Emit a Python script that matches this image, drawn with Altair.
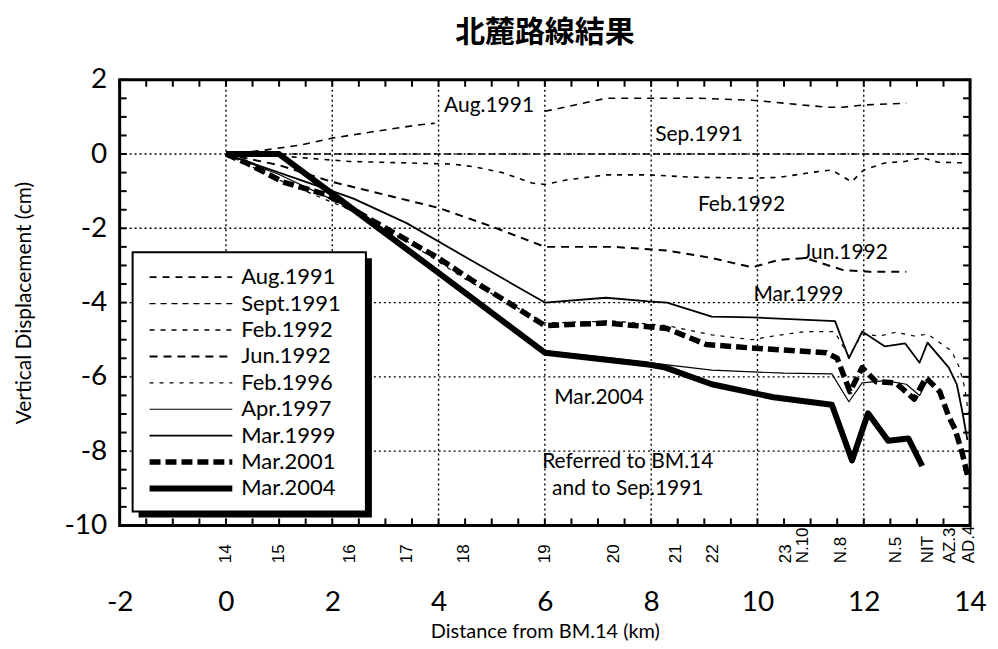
import altair as alt
import pandas as pd
import numpy as np

# ---------------- data ----------------
TITLE = "北麓路線結果"
X_TICKS = [-2, 0, 2, 4, 6, 8, 10, 12, 14]
Y_TICKS = [2, 0, -2, -4, -6, -8, -10]
GRID_X = [0, 2, 4, 6, 8, 10, 12]
GRID_Y = [0, -2, -4, -6, -8]

STATIONS = ["14", "15", "16", "17", "18", "19", "20", "21", "22", "23", "N.10",
            "N.8", "N.5", "NIT", "AZ.3", "AD.4"]
STATION_KM = [0.0, 1.0, 2.33, 3.41, 4.48, 6.0, 7.3, 8.46, 9.17, 10.54, 10.86,
              11.58, 12.6, 13.2, 13.62, 13.98]

SERIES = ["Aug.1991", "Sept.1991", "Feb.1992", "Jun.1992", "Feb.1996",
          "Apr.1997", "Mar.1999", "Mar.2001", "Mar.2004"]

AUG91_KM = [0, 0.7, 1.4, 2.0, 2.76, 3.6, 3.93, 6.0, 6.5, 7.15, 8.0, 8.9, 9.9, 10.5, 11.3, 11.6, 12.0, 12.8]
AUG91_CM = [0, 0.1, 0.24, 0.43, 0.6, 0.78, 0.83, 1.15, 1.3, 1.5, 1.5, 1.5, 1.45, 1.37, 1.26, 1.26, 1.32, 1.37]
AUG91_SEG = [0, 0, 0, 0, 0, 0, 0, 1, 1, 1, 1, 1, 1, 1, 1, 1, 1, 1]

SEP91_KM = [0, 14]
SEP91_CM = [0, 0]

FEB92_KM = [0, 1.0, 2.33, 3.41, 4.26, 4.7, 5.2, 5.76, 6.0, 6.4, 7.15, 7.95, 8.7, 9.9, 10.4,
            11.1, 11.4, 11.77, 12.0, 12.4, 12.78, 13.1, 13.4, 13.95]
FEB92_CM = [0, -0.05, -0.2, -0.24, -0.27, -0.35, -0.5, -0.78, -0.82, -0.7, -0.56, -0.56, -0.62,
            -0.65, -0.63, -0.48, -0.43, -0.75, -0.43, -0.24, -0.2, -0.1, -0.22, -0.24]

JUN92_KM = [0, 1.0, 2.0, 3.0, 4.0, 5.0, 6.0, 7.3, 8.3, 9.14, 9.9, 10.4, 10.9, 11.6, 12.1, 12.8]
JUN92_CM = [0, -0.3, -0.75, -1.1, -1.45, -1.95, -2.5, -2.5, -2.6, -2.8, -3.05, -2.85, -2.8,
            -3.12, -3.17, -3.17]

FEB96_KM = [0, 1.0, 2.33, 3.41, 4.48, 6.0, 7.3, 8.3, 9.14, 9.9, 10.3, 10.9, 11.45, 11.72,
            11.97, 12.3, 12.6, 12.95, 13.2, 13.4, 13.65, 13.8, 13.9, 13.97]
FEB96_CM = [0, -0.7, -1.5, -2.35, -3.35, -4.55, -4.5, -4.62, -4.87, -5.0, -4.9, -4.78, -4.78,
            -5.45, -4.85, -4.9, -4.8, -4.9, -4.85, -5.05, -5.3, -5.75, -6.3, -7.0]

APR97_KM = [0, 1.0, 2.33, 3.41, 4.48, 6.0, 7.3, 8.3, 9.14, 10.5, 11.4, 11.72, 11.97, 12.4,
            12.8, 13.05, 13.2]
APR97_CM = [0, -0.55, -1.45, -2.55, -3.65, -5.3, -5.5, -5.68, -5.82, -5.9, -5.92, -6.67,
            -6.16, -6.1, -6.2, -6.5, -6.1]

MAR99_KM = [0, 1.0, 1.95, 2.4, 3.4, 4.27, 6.0, 7.15, 7.95, 8.3, 9.14, 9.9, 11.46, 11.72,
            11.97, 12.4, 12.78, 13.05, 13.2, 13.6, 13.75, 13.85, 13.95]
MAR99_CM = [0, -0.5, -0.97, -1.2, -1.86, -2.58, -4.0, -3.87, -3.97, -4.0, -4.38, -4.4, -4.5,
            -5.5, -4.78, -5.18, -5.1, -5.62, -5.08, -5.75, -6.2, -6.9, -7.7]

MAR01_KM = [0, 0.4, 1.07, 1.9, 2.57, 3.26, 3.96, 4.63, 5.38, 6.0, 7.15, 7.95, 8.3, 9.04,
            9.87, 11.3, 11.5, 11.74, 11.97, 12.23, 12.6, 12.95, 13.17, 13.43, 13.6, 13.72,
            13.85, 13.96]
MAR01_CM = [0, -0.25, -0.75, -1.1, -1.64, -2.2, -2.77, -3.4, -4.06, -4.62, -4.55, -4.65,
            -4.7, -5.13, -5.22, -5.35, -5.5, -6.4, -5.75, -6.13, -6.16, -6.6, -6.02, -6.4,
            -7.07, -7.42, -8.04, -8.7]

MAR04_KM = [0, 1.0, 2.0, 4.0, 6.0, 7.95, 8.27, 9.14, 10.3, 11.4, 11.78, 12.08, 12.46, 12.84, 13.1]
MAR04_CM = [0, 0, -1.07, -3.2, -5.35, -5.67, -5.75, -6.2, -6.55, -6.75, -8.25, -6.98, -7.72,
            -7.66, -8.4]

SERIES_DATA = {
    "Aug.1991": (AUG91_KM, AUG91_CM, AUG91_SEG),
    "Sept.1991": (SEP91_KM, SEP91_CM, None),
    "Feb.1992": (FEB92_KM, FEB92_CM, None),
    "Jun.1992": (JUN92_KM, JUN92_CM, None),
    "Feb.1996": (FEB96_KM, FEB96_CM, None),
    "Apr.1997": (APR97_KM, APR97_CM, None),
    "Mar.1999": (MAR99_KM, MAR99_CM, None),
    "Mar.2001": (MAR01_KM, MAR01_CM, None),
    "Mar.2004": (MAR04_KM, MAR04_CM, None),
}

ANNOT_TEXT = ["Aug.1991", "Sep.1991", "Feb.1992", "Jun.1992", "Mar.1999", "Mar.2004",
              "Referred to BM.14", "and to Sep.1991"]
ANNOT_KM = [4.95, 8.9, 9.7, 11.65, 10.77, 7.02, 7.56, 7.56]
ANNOT_CM = [1.3, 0.52, -1.37, -2.66, -3.8, -6.56, -8.28, -9.03]

# ---------------- styles / layout ----------------
W, H = 853, 447
FONT = "Lato"
STYLE = {
    "Aug.1991": dict(dash=[7, 6], width=1.6),
    "Sept.1991": dict(dash=[6, 5], width=1.4),
    "Feb.1992": dict(dash=[5, 6], width=1.6),
    "Jun.1992": dict(dash=[8, 6], width=2.0),
    "Feb.1996": dict(dash=[4, 6], width=1.2),
    "Apr.1997": dict(dash=None, width=1.2),
    "Mar.1999": dict(dash=None, width=1.8),
    "Mar.2001": dict(dash=[11, 5], width=5.5),
    "Mar.2004": dict(dash=None, width=6.0),
}

xs = alt.Scale(domain=[-2, 14], nice=False, zero=False)
ys = alt.Scale(domain=[-10, 2], nice=False, zero=False)
xaxis = alt.Axis(values=X_TICKS, ticks=False, tickSize=0, domain=False, grid=False,
                 labelFontSize=28, labelFont=FONT, labelColor="black", labelPadding=63,
                 labelExpr="datum.value + ''",
                 title="Distance from BM.14 (km)", titleFontSize=20, titleFont=FONT,
                 titleFontWeight="normal", titleColor="black", titlePadding=5,
                 labelFlush=False)
yaxis = alt.Axis(values=Y_TICKS, ticks=False, tickSize=0, domain=False, grid=False,
                 labelFontSize=28, labelFont=FONT, labelColor="black", labelPadding=13,
                 labelExpr="datum.value + ''",
                 title="Vertical Displacement (cm)", titleFontSize=21, titleFont=FONT,
                 titleFontWeight="normal", titleColor="black", titlePadding=30,
                 labelFlush=False)


def X(field):
    return alt.X(field, type="quantitative", scale=xs, axis=xaxis)


def Y(field):
    return alt.Y(field, type="quantitative", scale=ys, axis=yaxis)


one = pd.DataFrame({"k": [0]})
layers = []

# gridlines
gx = pd.DataFrame({"v": GRID_X})
gy = pd.DataFrame({"v": GRID_Y})
layers.append(alt.Chart(gx).mark_rule(color="black", strokeWidth=1.4, strokeDash=[2, 3]).encode(
    x=X("v"), y=alt.value(0), y2=alt.value(H)))
layers.append(alt.Chart(gy).mark_rule(color="black", strokeWidth=1.4, strokeDash=[2, 3]).encode(
    y=Y("v"), x=alt.value(0), x2=alt.value(W)))

# inner ticks every 0.5
mx = pd.DataFrame({"v": np.arange(-2, 14.01, 0.5)})
my = pd.DataFrame({"v": np.arange(-10, 2.01, 0.5)})
TL = 7
layers.append(alt.Chart(mx).mark_rule(color="black", strokeWidth=2).encode(
    x=X("v"), y=alt.value(0), y2=alt.value(TL)))
layers.append(alt.Chart(mx).mark_rule(color="black", strokeWidth=2).encode(
    x=X("v"), y=alt.value(H), y2=alt.value(H - TL)))
layers.append(alt.Chart(my).mark_rule(color="black", strokeWidth=2).encode(
    y=Y("v"), x=alt.value(0), x2=alt.value(TL)))
layers.append(alt.Chart(my).mark_rule(color="black", strokeWidth=2).encode(
    y=Y("v"), x=alt.value(W), x2=alt.value(W - TL)))

# series lines
for name in SERIES:
    kms, cms, seg = SERIES_DATA[name]
    df = pd.DataFrame({"km": kms, "cm": cms, "i": range(len(kms)),
                       "seg": seg if seg is not None else [0] * len(kms)})
    st = STYLE[name]
    kw = dict(color="black", strokeWidth=st["width"], strokeJoin="round",
              strokeCap="butt", clip=False)
    if st["dash"] is not None:
        kw["strokeDash"] = st["dash"]
    layers.append(alt.Chart(df).mark_line(**kw).encode(
        x=X("km"), y=Y("cm"), order="i:Q", detail="seg:N"))

# annotations
ann = pd.DataFrame({"t": ANNOT_TEXT, "km": ANNOT_KM, "cm": ANNOT_CM})
layers.append(alt.Chart(ann).mark_text(font=FONT, fontSize=21, color="black",
                                       align="center", baseline="middle").encode(
    x=X("km"), y=Y("cm"), text="t:N"))

# station labels
stn = pd.DataFrame({"s": STATIONS, "km": STATION_KM})
layers.append(alt.Chart(stn).mark_text(font="Liberation Sans", fontSize=17, color="black",
                                       angle=270, align="left", baseline="middle").encode(
    x=X("km"), y=alt.value(H + 38), text="s:N"))

# legend box with shadow
LX0, LY0, LX1, LY1 = 13, 173, 247, 433
layers.append(alt.Chart(one).mark_rect(color="black").encode(
    x=alt.value(LX0 + 6), x2=alt.value(LX1 + 6), y=alt.value(LY0 + 6), y2=alt.value(LY1 + 6)))
layers.append(alt.Chart(one).mark_rect(fill="white", stroke="black", strokeWidth=2).encode(
    x=alt.value(LX0), x2=alt.value(LX1), y=alt.value(LY0), y2=alt.value(LY1)))
ROW0, ROWSTEP = 198, 26.5
for k, name in enumerate(SERIES):
    st = STYLE[name]
    ry = ROW0 + k * ROWSTEP
    kw = dict(color="black", strokeWidth=st["width"], strokeCap="butt")
    if st["dash"] is not None:
        kw["strokeDash"] = st["dash"]
    layers.append(alt.Chart(one).mark_rule(**kw).encode(
        x=alt.value(30), x2=alt.value(113), y=alt.value(ry)))
    layers.append(alt.Chart(pd.DataFrame({"t": [name]})).mark_text(
        font=FONT, fontSize=22, color="black", align="left", baseline="middle").encode(
        x=alt.value(122), y=alt.value(ry), text="t:N"))

chart = alt.layer(*layers).properties(
    width=W, height=H, autosize="none",
    padding={"left": 112, "top": 71, "right": 20, "bottom": 122},
    title=alt.TitleParams(TITLE, font="Noto Sans CJK JP", fontSize=30, fontWeight="bold",
                          color="black", anchor="middle", offset=18),
).configure_view(stroke="black", strokeWidth=3)

chart.save("out.html", embed_options={"renderer": "svg", "actions": False})
